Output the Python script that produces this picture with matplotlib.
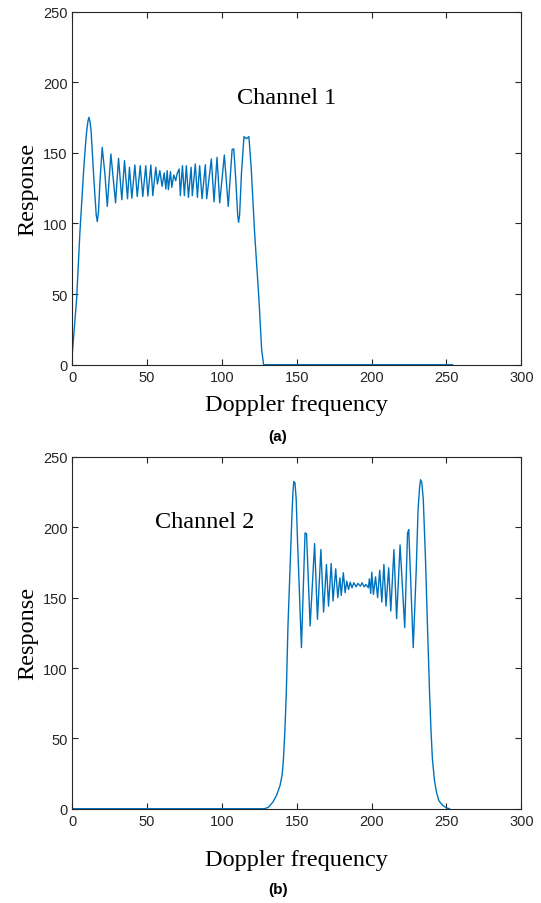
import matplotlib
matplotlib.use("Agg")
import matplotlib.pyplot as plt

# ---- Channel 1 ----
ch1_x = [0, 2.9, 5.1, 7.8, 9.0, 9.6, 10.4, 11.1, 11.9, 12.6, 14.5, 16.0, 16.7, 17.5, 18.5, 20.0, 21.8, 23.4, 25.8, 28.9, 30.9,
         33.1, 34.9, 36.9, 38.2, 39.8, 41.8, 43.4, 45.4, 47.1, 49.1, 50.5, 52.5, 53.8, 55.8,
         56.9, 58.5, 60.0, 61.4, 62.5, 63.4, 64.2, 65.6, 66.5, 67.8, 69.1, 70.0, 71.4, 72.2,
         73.6, 74.9, 76.2, 77.6, 79.4, 80.2, 82.2, 83.6, 85.1, 86.7, 88.9, 89.8, 92.9, 94.7,
         96.7, 98.5, 101.6, 104.2, 106.8, 107.9, 109.3, 110.5, 111.1, 111.8, 113.0, 114.7, 116.3, 118.0, 119.5, 121.8, 124.7,
         126.5, 127.8, 140, 180, 220, 254]
ch1_y = [7.6, 46.5, 93.8, 141, 158, 165, 172, 175.2, 172, 165, 130, 106, 101.3, 108, 130, 153.9, 135, 112.1, 149.2, 114.6, 146.1,
         116.8, 144.5, 117.5, 139.8, 117.9, 141.4, 119.1, 140.9, 119.1, 140.9, 119.4, 141.4, 119.7, 139.8,
         128.0, 137.4, 126.3, 135.8, 124.4, 137.4, 124.0, 136.7, 125.6, 134.3, 130.3, 135.1, 138.6, 119.7,
         140.9, 119.7, 140.9, 118.5, 139.8, 119.7, 142.1, 118.5, 140.9, 117.5, 141.6, 117.5, 145.7, 115.3,
         146.8, 114.6, 148.5, 112.1, 152.5, 152.8, 130, 106, 100.8, 106, 135, 161.5, 160, 161.5, 140, 93.8, 46.5,
         11, 0, 0, 0, 0, 0]

# ---- Channel 2 ----
ch2_x = [0, 60, 128.4, 131.0, 134.0, 136.5, 138.8, 140.2, 141.1, 142.1, 143.0, 144.1, 145.7, 146.8, 147.5, 148.0, 148.8, 149.6,
         150.5, 153.1, 155.5, 156.5, 158.9,
         161.9, 163.8, 166.1, 167.9, 169.8, 171.2, 173.0, 174.2, 176.0, 177.4, 178.8, 179.7, 181.1,
         182.3, 183.4, 184.6, 185.7, 186.9, 188.1, 189.7, 190.8, 192.5, 193.6, 195.0, 196.2, 197.8,
         198.5, 199.4, 200.1, 201.2, 202.6, 204.0, 205.4, 206.8, 208.2, 209.6, 211.4, 212.8, 214.9,
         216.7, 219.0, 222.1, 224.0, 224.8, 227.8, 229.8, 231.0, 232.0, 232.7, 233.5, 234.5, 236.0, 237.3,
         238.7, 239.6, 240.6, 242.0, 243.3, 245.0, 247.5, 250.0, 252.0]
ch2_y = [0, 0, 0, 1.0, 4.7, 9.5, 16.5, 24.0, 35.4, 57.0, 82.6, 129.9, 177.0, 210, 226, 232.6, 231.5, 220,
         190, 114.5, 196.0, 195.5, 129.9,
         188.4, 134.6, 184.2, 139.8, 173.6, 144.0, 174.3, 147.6, 170.5, 150.0, 164.1, 151.6, 167.7,
         153.5, 161.7, 155.8, 161.0, 157.0, 160.6, 157.7, 160.1, 158.2, 160.6, 157.7, 159.4, 157.0,
         163.4, 153.0, 168.1, 152.3, 164.8, 150.0, 169.5, 146.9, 173.6, 144.0, 171.2, 140.5, 184.2,
         135.1, 187.5, 128.7, 196.0, 198.3, 114.5, 170, 212, 228, 233.8, 232, 220, 177.0, 129.9,
         82.6, 57.0, 35.4, 20.0, 11.8, 5.5, 2.4, 0.6, 0]

x_ticks = [0, 50, 100, 150, 200, 250, 300]
y_ticks = [0, 50, 100, 150, 200, 250]

BLUE = "#0072BD"
AX = "#262626"
serif = ["Liberation Serif", "DejaVu Serif"]
sans = ["Liberation Sans", "DejaVu Sans"]

fig = plt.figure(figsize=(5.41, 9.04), dpi=100)
ax1 = fig.add_axes([0.1336, 0.5955, 0.830, 0.3905])
ax2 = fig.add_axes([0.1336, 0.1043, 0.830, 0.3891])

def style(ax, xpad):
    ax.set_xlim(0, 300)
    ax.set_ylim(0, 250)
    ax.set_xticks(x_ticks)
    ax.set_yticks(y_ticks)
    ax.tick_params(direction="in", top=True, right=True, length=4, width=0.8,
                   colors=AX, labelsize=10.5)
    for lab in ax.get_xticklabels() + ax.get_yticklabels():
        lab.set_fontfamily(sans)
    for s in ax.spines.values():
        s.set_color(AX)
        s.set_linewidth(0.8)
    ax.set_xlabel("Doppler frequency", fontsize=17.5, family=serif, color="black", labelpad=xpad)
    ax.set_ylabel("Response", fontsize=17.5, family=serif, color="black", labelpad=3)

ax1.plot(ch1_x, ch1_y, color=BLUE, lw=1.0)
ax2.plot(ch2_x, ch2_y, color=BLUE, lw=1.0)
style(ax1, 7.5)
style(ax2, 15.5)

ax1.text(110, 189, "Channel 1", fontsize=17.5, family=serif, va="center", ha="left")
ax2.text(55, 204, "Channel 2", fontsize=17.5, family=serif, va="center", ha="left")

fig.text(0.5134, 1 - 437 / 904, "(a)", fontsize=11, fontweight="bold", family=sans,
         ha="center", va="center")
fig.text(0.5134, 1 - 890 / 904, "(b)", fontsize=11, fontweight="bold", family=sans,
         ha="center", va="center")

fig.savefig("out.png", dpi=100)
